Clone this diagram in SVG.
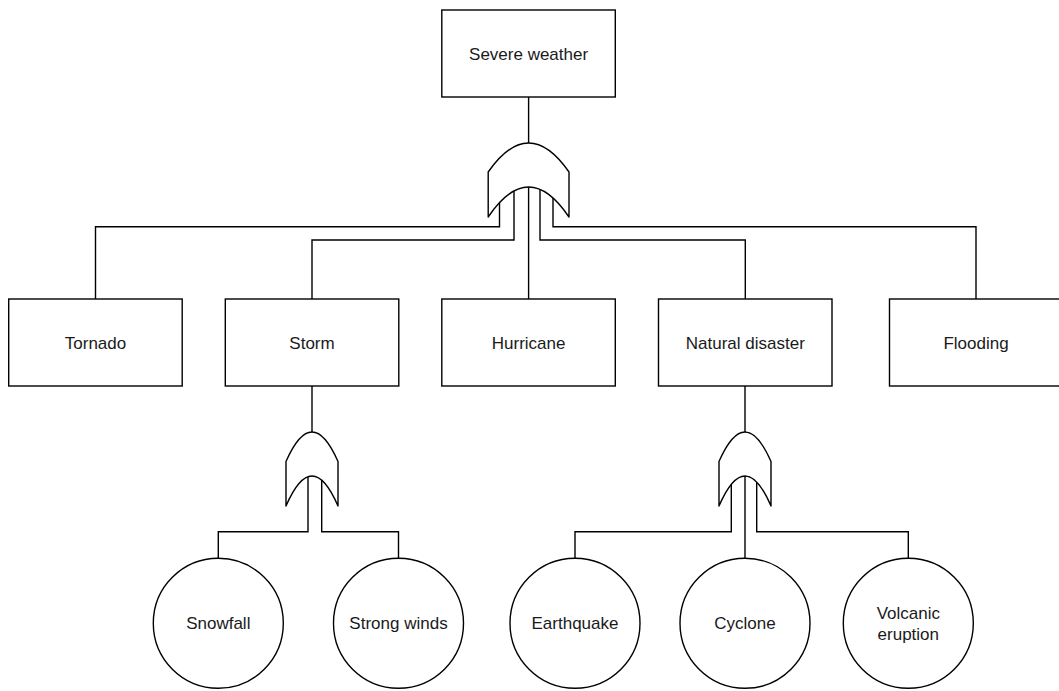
<svg xmlns="http://www.w3.org/2000/svg" width="1059" height="691" viewBox="0 0 1059 691">
  <style>
    .box{fill:#fff;stroke:#000;stroke-width:1.4}
    .gate{fill:#fff;stroke:#000;stroke-width:1.4;stroke-linejoin:round}
    .edge{fill:none;stroke:#000;stroke-width:1.4}
    text{font-family:"Liberation Sans",Arial,sans-serif;font-size:17px;fill:#1a1a1a;text-anchor:middle}
  </style>
  <rect width="1059" height="691" fill="#fff"/>
  <g id="connectors">
    <path class="edge" d="M528.6,97 V143"/>
    <path class="edge" d="M499.5,195 V226.7 H95.5 V299"/>
    <path class="edge" d="M514,185 V240 H312 V299"/>
    <path class="edge" d="M528.6,180 V299"/>
    <path class="edge" d="M540,185 V240 H745.3 V299"/>
    <path class="edge" d="M553,195 V226.7 H976 V299"/>
    <path class="edge" d="M312,386 V432"/>
    <path class="edge" d="M308,470 V531.7 H218.3 V558.3"/>
    <path class="edge" d="M321.7,470 V531.7 H398.5 V558.3"/>
    <path class="edge" d="M745,386 V432"/>
    <path class="edge" d="M731.3,470 V531.7 H575 V558.3"/>
    <path class="edge" d="M745,470 V558.3"/>
    <path class="edge" d="M756.7,470 V531.7 H908.3 V558.3"/>
  </g>
  <g id="severe-weather"><rect class="box" x="441.8" y="10" width="173.5" height="87"/><text x="528.6" y="59.5">Severe weather</text></g>
  <g id="gate-top"><path class="gate" d="M488.2,172 Q528.6,114 569,172 L569,217 Q528.6,157 488.2,217 Z"/></g>
  <g id="tornado"><rect class="box" x="8.7" y="299" width="173.5" height="87"/><text x="95.5" y="348.5">Tornado</text></g>
  <g id="storm"><rect class="box" x="225.3" y="299" width="173.5" height="87"/><text x="312" y="348.5">Storm</text></g>
  <g id="hurricane"><rect class="box" x="441.8" y="299" width="173.5" height="87"/><text x="528.6" y="348.5">Hurricane</text></g>
  <g id="natural-disaster"><rect class="box" x="658.5" y="299" width="173.5" height="87"/><text x="745.3" y="348.5">Natural disaster</text></g>
  <g id="flooding"><rect class="box" x="889.5" y="299" width="173.5" height="87"/><text x="976" y="348.5">Flooding</text></g>
  <g id="gate-storm"><path class="gate" d="M286,461.5 Q312,402.5 338,461.5 L338,506 Q312,446 286,506 Z"/></g>
  <g id="gate-natural"><path class="gate" d="M719,461.5 Q745,402.5 771,461.5 L771,506 Q745,446 719,506 Z"/></g>
  <g id="snowfall"><circle class="box" cx="218.3" cy="623.3" r="65"/><text x="218.3" y="629.3">Snowfall</text></g>
  <g id="strong-winds"><circle class="box" cx="398.5" cy="623.3" r="65"/><text x="398.5" y="629.3">Strong winds</text></g>
  <g id="earthquake"><circle class="box" cx="575" cy="623.3" r="65"/><text x="575" y="629.3">Earthquake</text></g>
  <g id="cyclone"><circle class="box" cx="745" cy="623.3" r="65"/><text x="745" y="629.3">Cyclone</text></g>
  <g id="volcanic-eruption"><circle class="box" cx="908.3" cy="623.3" r="65"/><text x="908.3" y="619.3">Volcanic</text><text x="908.3" y="639.5">eruption</text></g>
</svg>
